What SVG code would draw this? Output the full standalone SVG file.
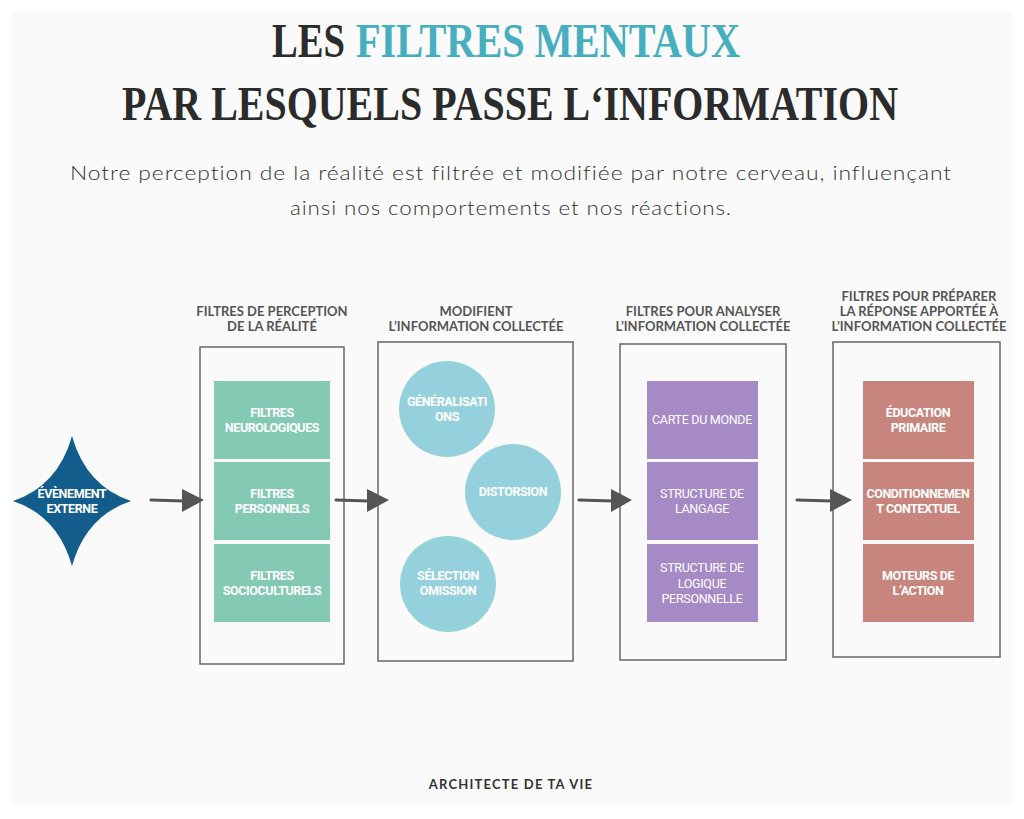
<svg xmlns="http://www.w3.org/2000/svg" width="1024" height="819" viewBox="0 0 1024 819">
<defs>
<style>
.title{font-family:"Liberation Serif",serif;font-weight:bold;font-size:48px;fill:#2b2b2b}
.teal{fill:#45aebf}
.sub{font-family:Lato,"Liberation Sans",sans-serif;font-weight:300;font-size:20px;fill:#333;letter-spacing:0.8px}
.hdr{font-family:Lato,"Liberation Sans",sans-serif;font-weight:bold;font-size:13px;fill:#555;text-anchor:middle}
.frame{fill:none;stroke:#666;stroke-width:1.5}
.lbl{font-family:Roboto,"Liberation Sans",sans-serif;font-weight:bold;font-size:12.5px;fill:#fff;text-anchor:middle;letter-spacing:-0.4px}
.lblr{font-family:Roboto,"Liberation Sans",sans-serif;font-weight:normal;font-size:12.5px;fill:#fff;text-anchor:middle;letter-spacing:-0.3px}
.green{fill:#84c9b3}
.purple{fill:#a68ac6}
.red{fill:#c7857d}
.circ{fill:#95d1dc}
.conn{stroke:#555;stroke-width:3;fill:none;stroke-linecap:round}
.head{fill:#555}
.foot{font-family:Lato,"Open Sans",sans-serif;font-weight:bold;font-size:13px;fill:#333;letter-spacing:1.2px;text-anchor:middle}
</style>
</defs>
<rect width="1024" height="819" fill="#ffffff"/>
<rect x="12" y="12" width="1000" height="794" fill="#fafafa"/>

<g id="title">
<text class="title" x="272" y="57" textLength="73" lengthAdjust="spacingAndGlyphs">LES</text>
<text class="title teal" x="356" y="57" textLength="384" lengthAdjust="spacingAndGlyphs">FILTRES MENTAUX</text>
<text class="title" x="122" y="120" textLength="776" lengthAdjust="spacingAndGlyphs">PAR LESQUELS PASSE L‘INFORMATION</text>
<text class="sub" x="70" y="180" textLength="882" lengthAdjust="spacingAndGlyphs">Notre perception de la réalité est filtrée et modifiée par notre cerveau, influençant</text>
<text class="sub" x="290" y="215" textLength="442" lengthAdjust="spacingAndGlyphs">ainsi nos comportements et nos réactions.</text>
</g>

<g id="event">
<path d="M13,501 Q58,486 72,436 Q86,486 131,501 Q86,516 72,566 Q58,516 13,501 Z" fill="#135d8d"/>
<text class="lbl" x="72" y="498">ÉVÈNEMENT</text>
<text class="lbl" x="72" y="513">EXTERNE</text>
</g>

<g id="col1">
<text class="hdr" x="272" y="316">FILTRES DE PERCEPTION</text>
<text class="hdr" x="272" y="331">DE LA RÉALITÉ</text>
<rect class="frame" x="200" y="347" width="144" height="317"/>
<rect class="green" x="214" y="381" width="116" height="78"/>
<text class="lbl" x="272" y="417">FILTRES</text>
<text class="lbl" x="272" y="432">NEUROLOGIQUES</text>
<rect class="green" x="214" y="462" width="116" height="78"/>
<text class="lbl" x="272" y="498">FILTRES</text>
<text class="lbl" x="272" y="513">PERSONNELS</text>
<rect class="green" x="214" y="544" width="116" height="78"/>
<text class="lbl" x="272" y="580">FILTRES</text>
<text class="lbl" x="272" y="595">SOCIOCULTURELS</text>
</g>

<g id="col2">
<text class="hdr" x="476" y="316">MODIFIENT</text>
<text class="hdr" x="476" y="331">L’INFORMATION COLLECTÉE</text>
<rect class="frame" x="378" y="342" width="195" height="319"/>
<circle class="circ" cx="447" cy="409" r="48"/>
<text class="lbl" x="447" y="406">GÉNÉRALISATI</text>
<text class="lbl" x="447" y="421">ONS</text>
<circle class="circ" cx="513" cy="492" r="48"/>
<text class="lbl" x="513" y="496">DISTORSION</text>
<circle class="circ" cx="448" cy="584" r="48"/>
<text class="lbl" x="448" y="580">SÉLECTION</text>
<text class="lbl" x="448" y="595">OMISSION</text>
</g>

<g id="col3">
<text class="hdr" x="703" y="316">FILTRES POUR ANALYSER</text>
<text class="hdr" x="703" y="331">L’INFORMATION COLLECTÉE</text>
<rect class="frame" x="620" y="344" width="166" height="316"/>
<rect class="purple" x="647" y="381" width="111" height="78"/>
<text class="lblr" x="702" y="424">CARTE DU MONDE</text>
<rect class="purple" x="647" y="462" width="111" height="78"/>
<text class="lblr" x="702" y="498">STRUCTURE DE</text>
<text class="lblr" x="702" y="513">LANGAGE</text>
<rect class="purple" x="647" y="544" width="111" height="78"/>
<text class="lblr" x="702" y="572">STRUCTURE DE</text>
<text class="lblr" x="702" y="588">LOGIQUE</text>
<text class="lblr" x="702" y="603">PERSONNELLE</text>
</g>

<g id="col4">
<text class="hdr" x="919" y="301">FILTRES POUR PRÉPARER</text>
<text class="hdr" x="919" y="316">LA RÉPONSE APPORTÉE À</text>
<text class="hdr" x="919" y="331">L’INFORMATION COLLECTÉE</text>
<rect class="frame" x="833" y="342" width="167" height="315"/>
<rect class="red" x="863" y="381" width="111" height="78"/>
<text class="lbl" x="918" y="417">ÉDUCATION</text>
<text class="lbl" x="918" y="432">PRIMAIRE</text>
<rect class="red" x="863" y="462" width="111" height="78"/>
<text class="lbl" x="918" y="498">CONDITIONNEMEN</text>
<text class="lbl" x="918" y="513">T CONTEXTUEL</text>
<rect class="red" x="863" y="544" width="111" height="78"/>
<text class="lbl" x="918" y="580">MOTEURS DE</text>
<text class="lbl" x="918" y="595">L’ACTION</text>
</g>

<g id="connectors">
<path class="conn" d="M151,500 L184,501"/>
<polygon class="head" points="182,489 204,500 182,512"/>
<path class="conn" d="M336,500 L369,501"/>
<polygon class="head" points="367,489 389,500 367,512"/>
<path class="conn" d="M579,500 L613,501"/>
<polygon class="head" points="611,489 632,500 611,512"/>
<path class="conn" d="M797,500 L832,501"/>
<polygon class="head" points="830,489 852,500 830,512"/>
</g>

<g id="footer">
<text class="foot" x="511" y="789">ARCHITECTE DE TA VIE</text>
</g>
</svg>
